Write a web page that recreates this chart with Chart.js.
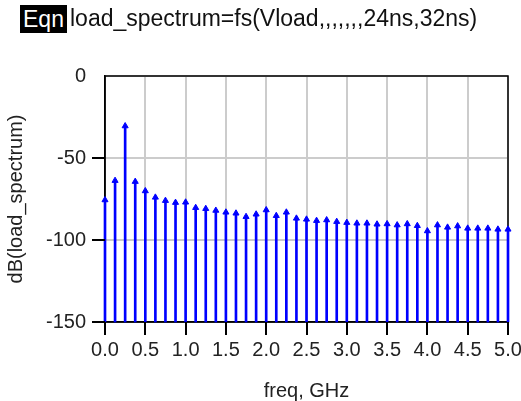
<!DOCTYPE html>
<html>
<head>
<meta charset="utf-8">
<script src="https://cdn.jsdelivr.net/npm/chart.js@4/dist/chart.umd.min.js"></script>
<style>
    body { margin: 0; background: #fff; }
    #wrap { position: relative; width: 521px; height: 401px; }
    #eqn {
        position: absolute; left: 20px; top: 5px; height: 28px; width: 47px;
        background: #000; color: #fff; font: 23px 'Liberation Sans', Arial, sans-serif;
        line-height: 28px; text-align: center;
    }
    #eqnText {
        position: absolute; left: 70px; top: 5px; line-height: 28px;
        font: 23px 'Liberation Sans', Arial, sans-serif; color: #111; white-space: nowrap;
    }
</style>
</head>
<body>
<div id="wrap">
    <canvas id="spectrumChart" width="521" height="401"></canvas>
    <div id="eqn">Eqn</div>
    <div id="eqnText">load_spectrum=fs(Vload,,,,,,,24ns,32ns)</div>
</div>
<script>
// harmonic frequencies, GHz (step 0.125)
const freqs = [0, 0.125, 0.25, 0.375, 0.5, 0.625, 0.75, 0.875, 1.0, 1.125,
    1.25, 1.375, 1.5, 1.625, 1.75, 1.875, 2.0, 2.125, 2.25, 2.375,
    2.5, 2.625, 2.75, 2.875, 3.0, 3.125, 3.25, 3.375, 3.5, 3.625,
    3.75, 3.875, 4.0, 4.125, 4.25, 4.375, 4.5, 4.625, 4.75, 4.875, 5.0];
// dB(load_spectrum)
const dbValues = [-75.6, -63.8, -30.5, -64.4, -70.1, -74.0, -76.0, -77.2, -77.0, -80.3,
    -80.9, -82.0, -83.1, -83.7, -85.8, -84.3, -81.7, -85.2, -83.1, -86.8,
    -87.4, -88.2, -87.8, -88.8, -89.4, -89.8, -89.8, -90.4, -90.2, -90.9,
    -90.2, -91.3, -94.5, -90.9, -92.3, -91.5, -92.9, -92.9, -92.9, -93.5, -93.5];
const yFloor = -150;
const xTicks = [0, 0.5, 1, 1.5, 2, 2.5, 3, 3.5, 4, 4.5, 5];
const yTicks = [0, -50, -100, -150];

const font = "'Liberation Sans', Arial, sans-serif";
const TICK = 13;

// black frame round the plot area + outside tick marks
const frame = {
    id: 'frame',
    afterDraw(chart) {
        const { ctx, chartArea: a, scales } = chart;
        ctx.save();
        ctx.strokeStyle = '#000';
        ctx.lineWidth = 2;
        ctx.beginPath();
        xTicks.forEach(v => {
            const px = Math.round(scales.x.getPixelForValue(v));
            ctx.moveTo(px, a.bottom);
            ctx.lineTo(px, a.bottom + TICK);
        });
        yTicks.filter(v => v !== 0).forEach(v => {
            const py = Math.round(scales.y.getPixelForValue(v));
            ctx.moveTo(a.left - TICK, py);
            ctx.lineTo(a.left, py);
        });
        ctx.stroke();
        ctx.restore();
    },
    beforeDatasetsDraw(chart) {
        const { ctx, chartArea: a } = chart;
        ctx.save();
        ctx.strokeStyle = '#000';
        ctx.lineWidth = 1.5;
        ctx.strokeRect(a.left, a.top, a.right - a.left, a.bottom - a.top);
        ctx.restore();
    }
};

new Chart(document.getElementById('spectrumChart'), {
    data: {
        datasets: [{
            type: 'scatter',
            data: freqs.map((f, i) => ({ x: f, y: dbValues[i] })),
            pointStyle: 'triangle',
            pointRadius: 3.5,
            backgroundColor: '#0000ff',
            borderColor: '#0000ff',
            borderWidth: 1,
            clip: false,
            order: 0
        }, {
            type: 'bar',
            data: freqs.map((f, i) => ({ x: f, y: [yFloor, dbValues[i]] })),
            backgroundColor: '#0000ff',
            barThickness: 2,
            grouped: false,
            clip: false,
            order: 1
        }]
    },
    options: {
        responsive: false,
        animation: false,
        layout: { padding: { left: 0, top: 76, right: 13, bottom: 0 } },
        plugins: { legend: { display: false }, tooltip: { enabled: false } },
        scales: {
            x: {
                type: 'linear',
                min: 0, max: 5,
                offset: false,
                afterBuildTicks: s => { s.ticks = xTicks.map(v => ({ value: v })); },
                afterFit: s => { s.height = 79; s.paddingLeft = 0; s.paddingRight = 0; },
                ticks: {
                    callback: v => v.toFixed(1),
                    font: { family: font, size: 20 },
                    color: '#222',
                    padding: TICK + 3,
                    maxRotation: 0
                },
                grid: { offset: false, color: '#cccccc', lineWidth: 2, drawTicks: false },
                border: { color: '#000', width: 1.5 },
                title: {
                    display: true, text: 'freq, GHz', color: '#222',
                    font: { family: font, size: 20, lineHeight: 1 },
                    padding: { top: 0, bottom: 0 }
                }
            },
            y: {
                min: -150, max: 0,
                afterBuildTicks: s => { s.ticks = yTicks.map(v => ({ value: v })); },
                afterFit: s => { s.width = 105; s.paddingTop = 0; s.paddingBottom = 0; },
                ticks: {
                    font: { family: font, size: 20 },
                    color: '#222',
                    padding: TICK + 6
                },
                grid: { color: '#cccccc', lineWidth: 2, drawTicks: false },
                border: { color: '#000', width: 1.5 },
                title: {
                    display: true, text: 'dB(load_spectrum)', color: '#222',
                    font: { family: font, size: 20, lineHeight: 1 },
                    padding: { top: 6, bottom: 0 }
                }
            }
        }
    },
    plugins: [frame]
});
</script>
</body>
</html>
